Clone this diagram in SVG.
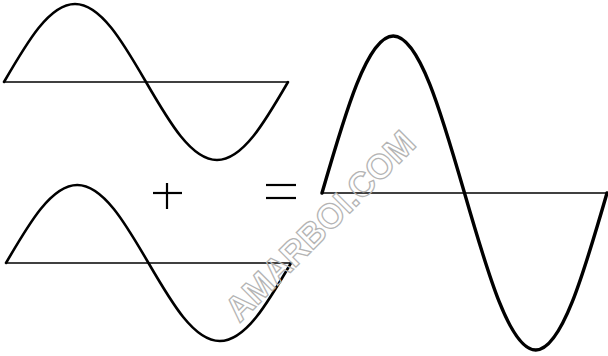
<svg xmlns="http://www.w3.org/2000/svg" width="608" height="356" viewBox="0 0 608 356">
<style>
.wave{fill:none;stroke:#000;stroke-width:2.6;stroke-linejoin:round;stroke-linecap:round}
.big{stroke-width:3.4}
.axis{fill:none;stroke:#000;stroke-width:1.6}
.op{fill:none;stroke:#000;stroke-width:2.2}
.wm{font-family:"Liberation Sans",Arial,sans-serif;font-weight:bold;font-size:35px;fill:none;stroke:#b4b4b4;stroke-width:1.3}
</style>
<rect width="608" height="356" fill="#fff"/>
<g id="wave1">
<line class="axis" x1="4" y1="82" x2="288" y2="82"/>
<path class="wave" d="M4,82 C27.18,42 49.3,4 75,4 C100.7,4 122.82,42 146,82 C169.18,122 191.3,160 217,160 C242.7,160 264.82,122 288,82"/>
</g>
<g id="wave2">
<line class="axis" x1="6" y1="263" x2="291" y2="263"/>
<path class="wave" d="M6,263 C29.26,223 51.46,185 77.25,185 C103.04,185 125.24,223 148.5,263 C171.76,303 193.96,341 219.75,341 C245.54,341 267.74,303 291,263"/>
</g>
<g id="plus">
<line class="op" x1="153" y1="193" x2="182" y2="193"/>
<line class="op" x1="167" y1="183" x2="167" y2="209"/>
</g>
<g id="equals">
<line class="op" x1="266" y1="185" x2="296" y2="185"/>
<line class="op" x1="266" y1="198" x2="296" y2="198"/>
</g>
<g id="wave3">
<line class="axis" x1="322" y1="193" x2="607" y2="193"/>
<path class="wave big" d="M322,193 C345.26,112.5 367.46,36 393.25,36 C419.04,36 441.24,112.5 464.5,193 C487.76,273.5 509.96,350 535.75,350 C561.54,350 583.74,273.5 607,193"/>
</g>
<g id="watermark">
<text class="wm" x="0" y="12" text-anchor="middle" textLength="252" lengthAdjust="spacingAndGlyphs" transform="translate(320,226) rotate(-45)">AMARBOI.COM</text>
</g>
</svg>
